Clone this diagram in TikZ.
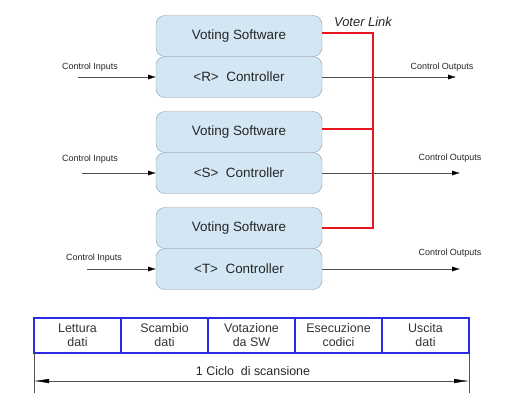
\documentclass[tikz,border=0pt]{standalone}
\usepackage{fontspec}
\setmainfont{Liberation Sans}
\usetikzlibrary{positioning,arrows.meta}
\definecolor{boxfill}{HTML}{D2E6F4}
\definecolor{boxline}{HTML}{8C9BA8}
\definecolor{cellblue}{HTML}{2A2AE6}
\definecolor{wire}{HTML}{505050}
\definecolor{voter}{HTML}{E8141E}
\begin{document}
\begin{tikzpicture}[x=1bp, y=-1bp,
		blk/.style={draw=boxline, fill=boxfill, rounded corners=9bp, minimum width=166bp, minimum height=41bp, inner sep=0pt, outer sep=0pt, font=\fontsize{13.5}{15}\selectfont, text=black!85},
		cell/.style={draw=cellblue, line width=1.6bp, minimum width=87bp, minimum height=35bp, inner sep=0pt, outer sep=0pt, align=center, font=\fontsize{12.5}{14}\selectfont, text=black!80},
		sig/.style={draw=wire, -{Latex[length=8bp,width=5bp,black]}},
		lbl/.style={font=\fontsize{9}{10}\selectfont, inner sep=0pt, text=black!85}]
	\useasboundingbox (0,0) rectangle (512,403);
	% the three channels
	\node[blk] (sw1) at (239,36) {Voting Software};
	\node[blk, below=0pt of sw1] (ctl1) {<R>\ \ Controller};
	\node[blk, below=14bp of ctl1] (sw2) {Voting Software};
	\node[blk, below=0pt of sw2] (ctl2) {<S>\ \ Controller};
	\node[blk, below=14bp of ctl2] (sw3) {Voting Software};
	\node[blk, below=0pt of sw3] (ctl3) {<T>\ \ Controller};
	% inputs and outputs
	\coordinate (in1) at ([xshift=-78bp]ctl1.west);
	\coordinate (in2) at ([xshift=-74bp]ctl2.west);
	\coordinate (in3) at ([xshift=-69bp]ctl3.west);
	\coordinate (out1) at ([xshift=134bp]ctl1.east);
	\coordinate (out2) at ([xshift=138bp]ctl2.east);
	\coordinate (out3) at ([xshift=138bp]ctl3.east);
	\draw[sig] (in1) -- (ctl1.west);
	\draw[sig] (in2) -- (ctl2.west);
	\draw[sig] (in3) -- (ctl3.west);
	\draw[sig] (ctl1.east) -- (out1);
	\draw[sig] (ctl2.east) -- (out2);
	\draw[sig] (ctl3.east) -- (out3);
	\node[lbl] (cin1) at (90,67) {Control Inputs};
	\node[lbl] (cin2) at (90,159) {Control Inputs};
	\node[lbl] (cin3) at (94,258) {Control Inputs};
	\node[lbl] (cout1) at (442,67) {Control Outputs};
	\node[lbl] (cout2) at (450,158) {Control Outputs};
	\node[lbl] (cout3) at (450,253) {Control Outputs};
	% voter link
	\coordinate (bus1) at ([xshift=51bp,yshift=3bp]sw1.east);
	\coordinate (bus2) at ([xshift=51bp,yshift=3bp]sw2.east);
	\coordinate (bus3) at ([xshift=51bp]sw3.east);
	\draw[voter, line width=1.4bp] ([yshift=3bp]sw1.east) -- (bus1) -- (bus3) -- (sw3.east);
	\draw[voter, line width=1.4bp] ([yshift=3bp]sw2.east) -- (bus2);
	\node[font=\fontsize{13}{15}\selectfont\itshape, inner sep=0pt, text=black!85] (link) at (363,22) {Voter Link};
	% scan cycle
	\node[cell] (c1) at (77.5,335.5) {Lettura\\dati};
	\node[cell, right=0pt of c1] (c2) {Scambio\\dati};
	\node[cell, right=0pt of c2] (c3) {Votazione\\da SW};
	\node[cell, right=0pt of c3] (c4) {Esecuzione\\codici};
	\node[cell, right=0pt of c4] (c5) {Uscita\\dati};
	\coordinate (e1) at ([yshift=-40bp]c1.south west);
	\coordinate (e2) at ([yshift=-40bp]c5.south east);
	\coordinate (a1) at ([yshift=-28bp]c1.south west);
	\coordinate (a2) at ([yshift=-28bp]c5.south east);
	\draw[wire] (c1.south west) -- (e1);
	\draw[wire] (c5.south east) -- (e2);
	\draw[wire, {Latex[length=15bp,width=4.5bp,black]}-{Latex[length=15bp,width=4.5bp,black]}] (a1) -- (a2);
	\node[font=\fontsize{12.5}{14}\selectfont, inner sep=0pt, text=black!85] (cycle) at (253,371) {1 Ciclo\ \ di scansione};
\end{tikzpicture}
\end{document}
